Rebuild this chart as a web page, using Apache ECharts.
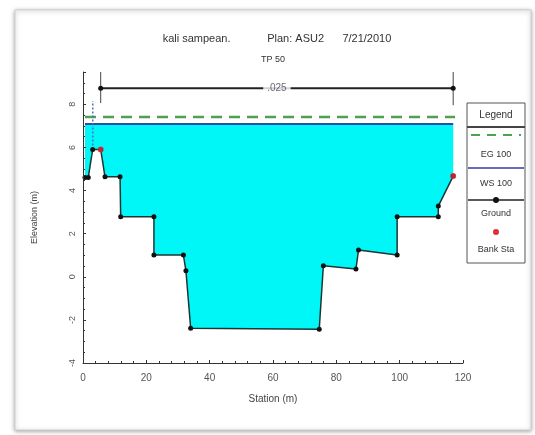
<!DOCTYPE html>
<html><head><meta charset="utf-8">
<script src="https://cdn.jsdelivr.net/npm/echarts@6/dist/echarts.min.js"></script>
<style>html,body{margin:0;padding:0;background:#fff}#c{width:535px;height:435px}</style>
</head><body><div id="c"></div>
<script>
// ---- data ----
const groundStation = [0.63, 1.67, 3.06, 5.59, 6.95, 11.7, 11.9, 22.4, 22.4, 31.7, 32.5, 34.0, 74.6, 75.9, 86.2, 87.0, 99.2, 99.2, 112.2, 112.2, 116.9];
const groundElev    = [4.61, 4.61, 5.91, 5.91, 4.64, 4.64, 2.79, 2.79, 1.01, 1.01, 0.28, -2.39, -2.44, 0.51, 0.36, 1.24, 1.01, 2.79, 2.79, 3.28, 4.67];
const bankStation = [5.59, 116.9];
const bankElev = [5.91, 4.67];
const wsElev = 7.09;      // WS 100
const egElev = 7.41;      // EG 100
const egStations = [0.63, 117.5];
const nValueLabel = '.025';
const nValueElev = 8.75;
const nTickTop = 9.5, nTickBottom = 8.06;
const xTicks = [0, 20, 40, 60, 80, 100, 120];
const yTicks = [-4, -2, 0, 2, 4, 6, 8];

const ground = groundStation.map((s, i) => [s, groundElev[i]]);
const bank = bankStation.map((s, i) => [s, bankElev[i]]);
const first = groundStation[0], last = groundStation[groundStation.length - 1];
const font = '"Liberation Sans", Arial, sans-serif';

const chart = echarts.init(document.getElementById('c'));
chart.setOption({
  animation: false,
  backgroundColor: '#fff',
  grid: { left: 83, top: 72, width: 380, height: 291, containLabel: false },
  xAxis: {
    type: 'value', min: xTicks[0], max: xTicks[xTicks.length - 1], interval: 20, z: 10,
    name: 'Station (m)', nameLocation: 'middle', nameGap: 31,
    nameTextStyle: { fontSize: 10, color: '#444', fontFamily: font },
    axisLine: { onZero: false, lineStyle: { color: '#333', width: 1 } },
    axisTick: { inside: true, length: 3, lineStyle: { color: '#333' } },
    minorTick: { show: true, splitNumber: 5, length: 2, lineStyle: { color: '#333' } },
    axisLabel: { fontSize: 10, color: '#555', margin: 10, fontFamily: font },
    splitLine: { show: false }
  },
  yAxis: {
    type: 'value', min: yTicks[0], max: nTickTop, interval: 2, z: 10,
    name: 'Elevation (m)', nameLocation: 'middle', nameGap: 44, nameRotate: 90,
    nameTextStyle: { fontSize: 9, color: '#444', fontFamily: font },
    axisLine: { onZero: false, lineStyle: { color: '#333', width: 1 } },
    axisTick: { inside: true, length: 3, lineStyle: { color: '#333' } },
    minorTick: { show: true, splitNumber: 4, length: 2, lineStyle: { color: '#333' } },
    axisLabel: { fontSize: 9, color: '#555', rotate: 90, margin: 6, fontFamily: font,
      formatter: v => (yTicks.indexOf(v) >= 0 ? String(v) : '') },
    splitLine: { show: false }
  },
  title: [
    { text: 'kali sampean.            Plan: ASU2      7/21/2010', left: 272, textAlign: 'center', top: 28,
      textStyle: { fontSize: 11, fontWeight: 'normal', color: '#333', fontFamily: font } },
    { text: 'TP 50', left: 268, textAlign: 'center', top: 50,
      textStyle: { fontSize: 9, fontWeight: 'normal', color: '#333', fontFamily: font } }
  ],
  series: [
    { // water fill polygon between ground and WS
      type: 'custom', z: 1, silent: true, data: [[0]],
      renderItem: (params, api) => {
        const pts = ground.map(p => api.coord(p));
        pts.push(api.coord([last, wsElev]));
        pts.push(api.coord([first, wsElev]));
        return { type: 'polygon', shape: { points: pts }, style: { fill: '#00f7f7', stroke: null } };
      }
    },
    { name: 'EG 100', type: 'line', z: 3, symbol: 'none',
      data: egStations.map(s => [s, egElev]),
      lineStyle: { color: '#4fa04f', width: 2.5, type: [11, 7] } },
    { name: 'WS 100', type: 'line', z: 3, symbol: 'none',
      data: [[first, wsElev], [last, wsElev]],
      lineStyle: { color: '#2c4aa8', width: 2 } },
    { name: 'Ground', type: 'line', z: 4, data: ground,
      symbol: 'circle', symbolSize: 5, itemStyle: { color: '#111' },
      lineStyle: { color: '#1d3535', width: 1.5 } },
    { name: 'Bank Sta', type: 'scatter', z: 5, data: bank, symbolSize: 6, itemStyle: { color: '#e0303a' } },
    { // left dotted marker
      type: 'line', z: 3, symbol: 'none',
      data: [[bankStation[0] - 2.5, bankElev[0]], [bankStation[0] - 2.5, nTickBottom + 0.1]],
      lineStyle: { color: '#5070c0', width: 1.5, type: [2, 2] } },
    { // n-value dimension line
      type: 'line', z: 3, data: [[bankStation[0], nValueElev], [bankStation[1], nValueElev]],
      symbol: 'circle', symbolSize: 5, itemStyle: { color: '#111' },
      lineStyle: { color: '#222', width: 2 } },
    { type: 'line', z: 3, symbol: 'none', data: [[bankStation[0], nTickTop], [bankStation[0], nTickBottom]],
      lineStyle: { color: '#444', width: 1 } },
    { type: 'line', z: 3, symbol: 'none', data: [[bankStation[1], nTickTop], [bankStation[1], nTickBottom - 0.1]],
      lineStyle: { color: '#444', width: 1 } },
    { type: 'scatter', z: 6, symbolSize: 0,
      data: [[(bankStation[0] + bankStation[1]) / 2, nValueElev]],
      label: { show: true, position: 'inside', formatter: nValueLabel, fontSize: 10, color: '#445',
        backgroundColor: '#fff', padding: [1, 4], fontFamily: font } }
  ],
  graphic: [
    { type: 'rect', z: -1, shape: { x: 15, y: 10, width: 516, height: 420 },
      style: { fill: '#fff', stroke: '#cfcfcf', lineWidth: 1, shadowBlur: 4, shadowColor: 'rgba(0,0,0,0.35)', shadowOffsetY: 1 } },
    { type: 'group', z: 20, children: [
      { type: 'rect', shape: { x: 467, y: 103, width: 58, height: 160 }, style: { fill: '#fff', stroke: '#555', lineWidth: 1 } },
      { type: 'text', style: { text: 'Legend', x: 496, y: 115, align: 'center', verticalAlign: 'middle', fill: '#333', font: '10px ' + font } },
      { type: 'line', shape: { x1: 467, y1: 127, x2: 525, y2: 127 }, style: { stroke: '#444', lineWidth: 2 } },
      { type: 'line', shape: { x1: 471, y1: 135, x2: 521, y2: 135 }, style: { stroke: '#4fa04f', lineWidth: 2, lineDash: [9, 7] } },
      { type: 'text', style: { text: 'EG 100', x: 496, y: 155, align: 'center', verticalAlign: 'middle', fill: '#333', font: '9px ' + font } },
      { type: 'line', shape: { x1: 468, y1: 168, x2: 524, y2: 168 }, style: { stroke: '#6a6ab8', lineWidth: 2 } },
      { type: 'text', style: { text: 'WS 100', x: 496, y: 184, align: 'center', verticalAlign: 'middle', fill: '#333', font: '9px ' + font } },
      { type: 'line', shape: { x1: 468, y1: 200, x2: 524, y2: 200 }, style: { stroke: '#222', lineWidth: 1.5 } },
      { type: 'circle', shape: { cx: 496, cy: 200, r: 3 }, style: { fill: '#111' } },
      { type: 'text', style: { text: 'Ground', x: 496, y: 214, align: 'center', verticalAlign: 'middle', fill: '#333', font: '9px ' + font } },
      { type: 'circle', shape: { cx: 496, cy: 232, r: 3 }, style: { fill: '#e0303a' } },
      { type: 'text', style: { text: 'Bank Sta', x: 496, y: 250, align: 'center', verticalAlign: 'middle', fill: '#333', font: '9px ' + font } }
    ] }
  ]
});
</script></body></html>
